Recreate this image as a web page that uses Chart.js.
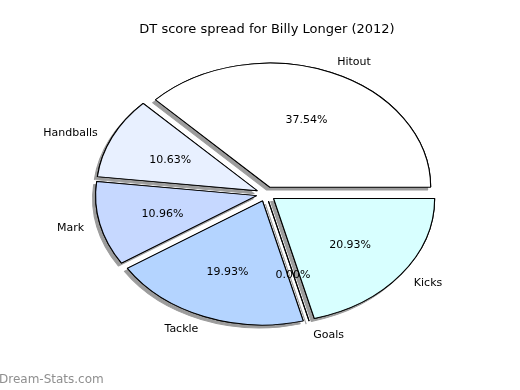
<!DOCTYPE html>
<html>
<head>
<meta charset="utf-8">
<script src="https://cdn.jsdelivr.net/npm/chart.js@4"></script>
<style>
  body { margin: 0; background: #fff; }
</style>
</head>
<body>
<canvas id="pieChart" width="520" height="390"></canvas>
<script>
const labels = ['Hitout', 'Handballs', 'Mark', 'Tackle', 'Goals', 'Kicks'];
const values = [37.54, 10.63, 10.96, 19.93, 0, 20.93];
const colors = ['#ffffff', '#e8f0ff', '#c6d8ff', '#b4d4ff', '#ffffff', '#d8ffff'];

// pie is stretched into an ellipse like the matplotlib original
const pieCx = 266, pieCy = 194, pieRx = 161, pieRy = 124;
const explode = 0.06;
const total = values.reduce((a, b) => a + b, 0);

// chart.js draws clockwise, the original goes counter-clockwise from 3 o'clock
const chartLabels = labels.slice().reverse();
const chartValues = values.slice().reverse();
const chartColors = colors.slice().reverse();

function pieTransform(ctx, arc) {
  const mid = (arc.startAngle + arc.endAngle) / 2;
  ctx.translate(pieCx, pieCy);
  ctx.scale(pieRx / arc.outerRadius, pieRy / arc.outerRadius);
  ctx.translate(-arc.x, -arc.y);
  ctx.translate(Math.cos(mid) * explode * arc.outerRadius, Math.sin(mid) * explode * arc.outerRadius);
}

function drawWedge(ctx, arc) {
  if (arc.circumference > 0) {
    arc.draw(ctx);
  } else {
    // zero slice (Goals) is just an edge line
    ctx.beginPath();
    ctx.moveTo(arc.x, arc.y);
    ctx.lineTo(arc.x + Math.cos(arc.startAngle) * arc.outerRadius, arc.y + Math.sin(arc.startAngle) * arc.outerRadius);
    ctx.lineWidth = arc.options.borderWidth;
    ctx.strokeStyle = arc.options.borderColor;
    ctx.stroke();
  }
}

const explodedPie = {
  id: 'explodedPie',
  beforeDatasetsDraw(chart) {
    const ctx = chart.ctx;
    const arcs = chart.getDatasetMeta(0).data;
    [true, false].forEach(withShadow => {
      arcs.forEach(arc => {
        ctx.save();
        if (withShadow) {
          ctx.shadowColor = '#9c9c9c';
          ctx.shadowOffsetX = -3;
          ctx.shadowOffsetY = 3;
          ctx.shadowBlur = 0;
        }
        pieTransform(ctx, arc);
        drawWedge(ctx, arc);
        ctx.restore();
      });
    });
    return false;
  },
  afterDraw(chart) {
    const ctx = chart.ctx;
    const arcs = chart.getDatasetMeta(0).data;
    ctx.save();
    ctx.font = '11px "DejaVu Sans"';
    ctx.fillStyle = '#000';
    ctx.textBaseline = 'middle';
    arcs.forEach((arc, i) => {
      const mid = (arc.startAngle + arc.endAngle) / 2;
      const c = Math.cos(mid), s = Math.sin(mid);
      const ex = pieCx + explode * pieRx * c;
      const ey = pieCy + explode * pieRy * s + 1.5;
      ctx.textAlign = c > 0 ? 'left' : 'right';
      ctx.fillText(chartLabels[i], ex + 1.1 * pieRx * c, ey + 1.1 * pieRy * s);
      ctx.textAlign = 'center';
      const pct = (chartValues[i] / total * 100).toFixed(2) + '%';
      ctx.fillText(pct, ex + 0.6 * pieRx * c, ey + 0.6 * pieRy * s);
    });
    // watermark
    ctx.font = '12px "DejaVu Sans"';
    ctx.fillStyle = '#8f8f8f';
    ctx.textAlign = 'left';
    ctx.fillText('Dream-Stats.com', -1, 380);
    ctx.restore();
  }
};

new Chart(document.getElementById('pieChart'), {
  type: 'pie',
  data: {
    labels: chartLabels,
    datasets: [{
      data: chartValues,
      backgroundColor: chartColors,
      borderColor: '#000',
      borderWidth: 0.85
    }]
  },
  options: {
    responsive: false,
    animation: false,
    devicePixelRatio: 1,
    events: [],
    rotation: 90,
    radius: 124,
    layout: { padding: { left: 14 } },
    plugins: {
      legend: { display: false },
      tooltip: { enabled: false },
      title: {
        display: true,
        text: 'DT score spread for Billy Longer (2012)',
        color: '#000',
        font: { family: '"DejaVu Sans"', size: 13, weight: 'normal' },
        padding: { top: 22, bottom: 0 }
      }
    }
  },
  plugins: [explodedPie]
});
</script>
</body>
</html>
